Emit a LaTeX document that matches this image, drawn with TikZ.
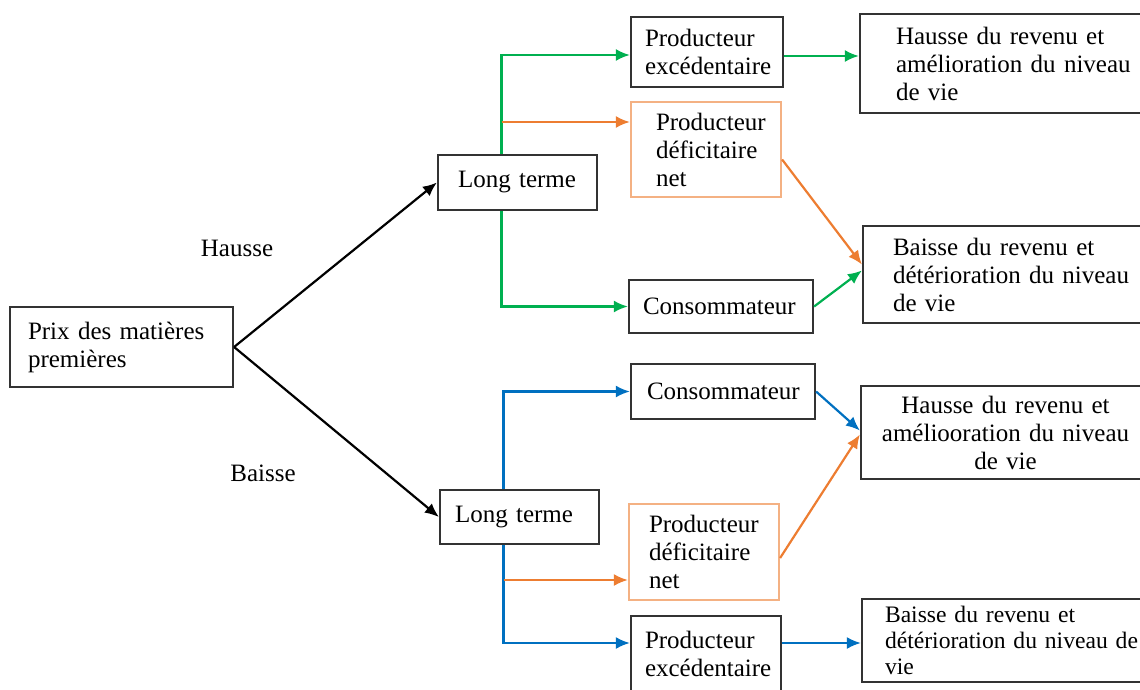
\documentclass[tikz,border=0pt]{standalone}
\usepackage{fontspec}
\setmainfont{Liberation Serif}
\usetikzlibrary{arrows.meta}
\definecolor{vertf}{RGB}{0,176,80}
\definecolor{orangef}{RGB}{237,125,49}
\definecolor{bleuf}{RGB}{0,112,192}
\definecolor{orangepale}{RGB}{244,177,131}
\begin{document}
\begin{tikzpicture}[>={Latex[length=7pt,width=6pt]}, x=.5pt, y=-.5pt,
    every node/.style={font=\fontsize{12.5}{14}\selectfont},
    boite/.style={draw=black!80, line width=1.1pt, align=left, inner ysep=0pt},
    fl/.style={->, line width=1.1pt}]
\path[use as bounding box, clip] (0,0) rectangle (1140,690);

\node[boite, text width=93.5pt, inner xsep=9pt, minimum height=40pt] (prix) at (121.5,347) {Prix des matières\\premières};
\node (hausse) at (237,248) {Hausse};
\node (baisse) at (263,473) {Baisse};

% hausse
\node[boite, text width=59.5pt, inner xsep=10pt, minimum height=27.5pt] (lt1) at (517.5,182.5) {Long terme};
\node[boite, text width=62pt, inner xsep=7pt, minimum height=35pt] (pe1) at (707,52) {Producteur\\excédentaire};
\node[boite, draw=orangepale, text width=50pt, inner xsep=12.5pt, minimum height=47.5pt] (df1) at (706,149.5) {Producteur\\déficitaire\\net};
\node[boite, text width=78pt, inner xsep=7pt, minimum height=26.5pt] (co1) at (721,306.5) {Consommateur};
\node[boite, text width=109pt, inner xsep=18pt, minimum height=49.5pt] (ha1) at (1005,63.5) {Hausse du revenu et\\amélioration~du~niveau\\de vie};
\node[boite, text width=113.5pt, inner xsep=15pt, minimum height=48.5pt] (ba1) at (1006.5,274.5) {Baisse du revenu et\\détérioration~du~niveau\\de vie};

% baisse
\node[boite, text width=64.5pt, inner xsep=7.5pt, minimum height=27pt] (lt2) at (519.5,517) {Long terme};
\node[boite, text width=76pt, inner xsep=8pt, minimum height=27.5pt] (co2) at (723,391.5) {Consommateur};
\node[boite, draw=orangepale, text width=55pt, inner xsep=10pt, minimum height=48pt] (df2) at (704,552) {Producteur\\déficitaire\\net};
\node[boite, text width=61pt, inner xsep=7pt, minimum height=38pt] (pe2) at (706,654) {Producteur\\excédentaire};
\node[boite, align=center, text width=136.5pt, inner xsep=4pt, minimum height=46.5pt] (ha2) at (1005.5,432.5) {Hausse du revenu et\\améliooration du niveau\\de vie};
\node[boite, text width=121pt, inner xsep=11.5pt, minimum height=41.5pt, font=\fontsize{11.8}{13.2}\selectfont] (ba2) at (1006,640.5) {Baisse du revenu et\\détérioration~du~niveau~de\\vie};

\draw[fl] (prix.east) -- (lt1.west);
\draw[fl] (prix.east) -- (lt2.west);

\coordinate (t1) at ([xshift=-8pt]lt1.north);
\coordinate (b1) at ([xshift=-8pt]lt1.south);
\coordinate (d1in) at ([yshift=13.75pt]df1.west);
\draw[fl, vertf] (t1) |- ([yshift=-1.5pt]pe1.west);
\draw[fl, orangef] (t1 |- d1in) -- (d1in);
\draw[fl, vertf] (b1) |- (co1.west);
\draw[fl, vertf] ([yshift=-2pt]pe1.east) -- ([yshift=-2pt]pe1.east -| ha1.west);
\draw[fl, orangef] ([yshift=-5pt]df1.east) -- ([yshift=5pt]ba1.west);
\draw[fl, vertf] (co1.east) -- ([yshift=2pt]ba1.west);

\coordinate (t2) at ([xshift=-8pt]lt2.north);
\coordinate (b2) at ([xshift=-8pt]lt2.south);
\coordinate (d2in) at ([yshift=-14pt]df2.west);
\coordinate (e2in) at ([yshift=5.5pt]pe2.west);
\coordinate (e2out) at ([yshift=5.5pt]pe2.east);
\draw[fl, bleuf] (t2) |- (co2.west);
\draw[fl, bleuf] (b2) |- (e2in);
\draw[fl, orangef] (b2 |- d2in) -- (d2in);
\draw[fl, bleuf] (co2.east) -- ([yshift=1pt]ha2.west);
\draw[fl, orangef] ([yshift=-3pt]df2.east) -- ([yshift=-1pt]ha2.west);
\draw[fl, bleuf] (e2out) -- (e2out -| ba2.west);
\end{tikzpicture}
\end{document}
